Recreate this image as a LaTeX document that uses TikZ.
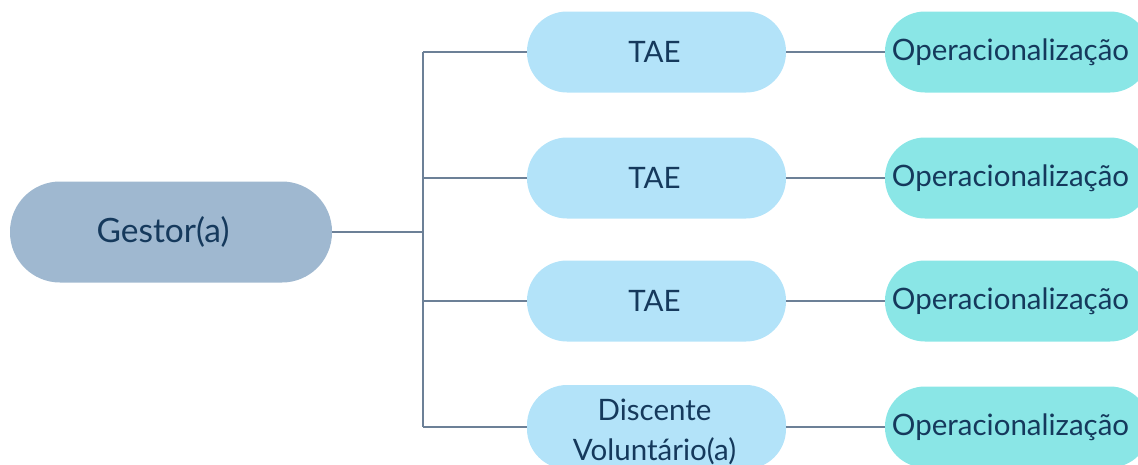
\documentclass[tikz,border=0pt]{standalone}
\usepackage{fontspec}
\setmainfont{Lato}
\definecolor{txtnavy}{HTML}{15395C}
\definecolor{linegray}{HTML}{6C8097}
\definecolor{gestorfill}{HTML}{9FB8D0}
\definecolor{taefill}{HTML}{B3E3F9}
\definecolor{opfill}{HTML}{8AE6E6}
\tikzset{
  pill/.style={rectangle, rounded corners=#1, inner sep=0pt},
  caption/.style={text=txtnavy, inner sep=0pt, align=center},
  rootbox/.style={pill=50pt, fill=gestorfill, minimum width=322pt, minimum height=101pt},
  taebox/.style={pill=40pt, fill=taefill, minimum width=259pt, minimum height=81pt},
  opbox/.style={pill=40pt, fill=opfill, minimum width=265pt, minimum height=81pt},
  bigtext/.style={caption, font=\fontsize{33.5}{40}\selectfont},
  midtext/.style={caption, font=\fontsize{29.5}{40}\selectfont},
  link/.style={draw=linegray, line width=1.4pt},
}
\begin{document}
\begin{tikzpicture}[x=1pt,y=-1pt]
  \useasboundingbox (0,0) rectangle (1138,464);
  \clip (0,0) rectangle (1138,464);

  % root
  \node[rootbox] (g) at (171,232) {};
  \node[bigtext] (gt) at ([xshift=-8pt]g.center) {Gestor(a)};

  % trunk junctions
  \coordinate (tg) at (423,232);
  \coordinate (t1) at (423,52);
  \coordinate (t2) at (423,178);
  \coordinate (t3) at (423,301);
  \coordinate (t4) at (423,427);

  % middle column
  \node[taebox] (a1) at (656.5,52) {};
  \node[taebox] (a2) at (656.5,178) {};
  \node[taebox] (a3) at (656.5,301) {};
  \node[taebox, minimum height=84pt] (a4) at (656.5,427) {};
  \foreach \i in {1,2,3}{
    \node[midtext] (at\i) at ([xshift=-2pt]a\i.center) {TAE};
  }
  \node[midtext] (at4) at ([xshift=-2pt,yshift=-5pt]a4.center) {Discente\\Voluntário(a)};

  % right column
  \foreach \i/\y in {1/52,2/178,3/301,4/427}{
    \node[opbox] (o\i) at (1017.5,\y) {};
    \node[midtext] (ot\i) at ([xshift=-7pt]o\i.center) {Operacionalização};
  }

  % connectors
  \draw[link] (g.east) -- (tg);
  \draw[link] (t1) -- (t4);
  \foreach \i in {1,2,3,4}{
    \draw[link] (t\i) -- (a\i.west);
    \draw[link] (a\i.east) -- (o\i.west);
  }
\end{tikzpicture}
\end{document}
